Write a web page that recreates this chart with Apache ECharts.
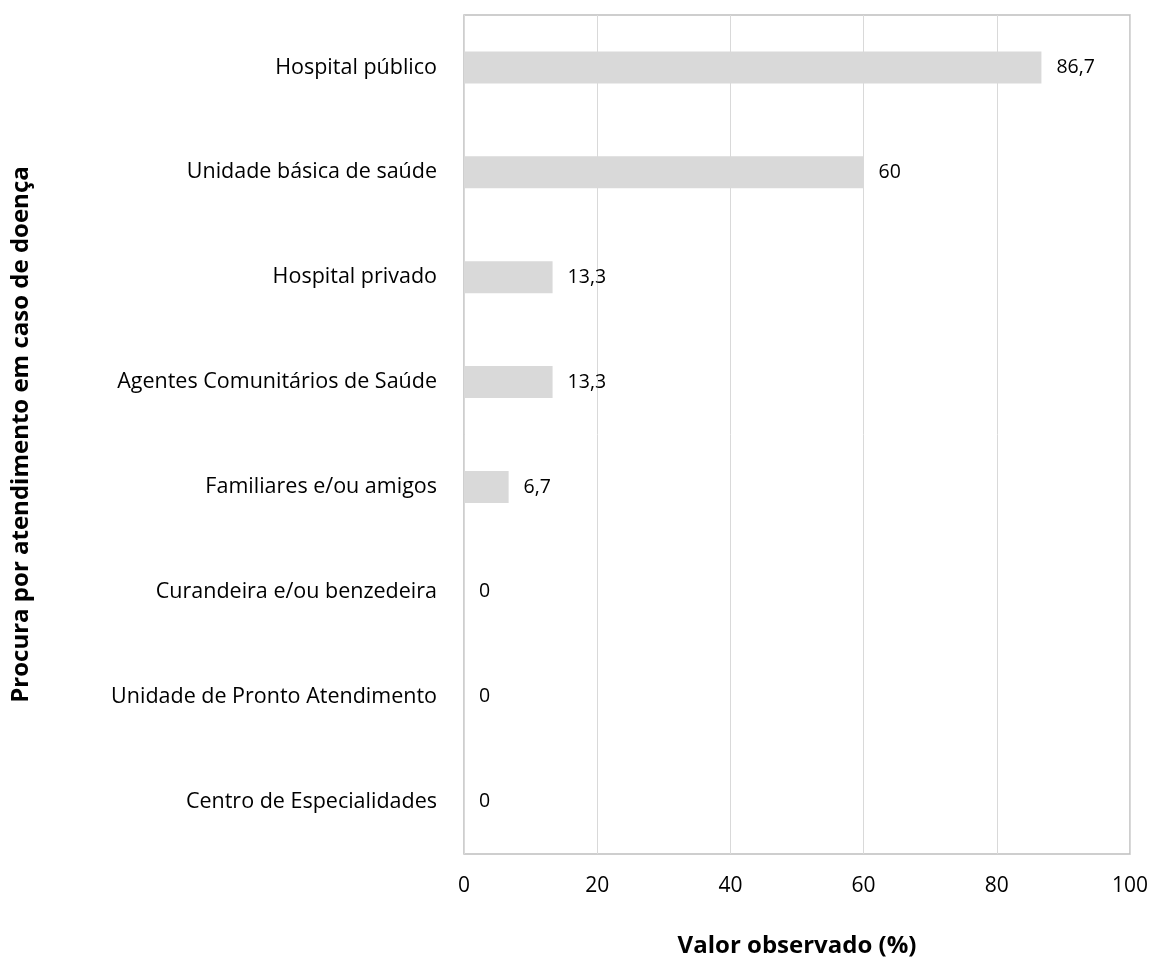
<!DOCTYPE html>
<html>
<head>
<meta charset="utf-8">
<script src="https://cdn.jsdelivr.net/npm/echarts@6/dist/echarts.min.js"></script>
<style>
  html, body { margin: 0; padding: 0; background: #fff; }
  #chart { width: 1153px; height: 962px; }
</style>
</head>
<body>
<div id="chart"></div>
<script>
  var categories = [
    "Hospital público",
    "Unidade básica de saúde",
    "Hospital privado",
    "Agentes Comunitários de Saúde",
    "Familiares e/ou amigos",
    "Curandeira e/ou benzedeira",
    "Unidade de Pronto Atendimento",
    "Centro de Especialidades"
  ];
  var values = [86.7, 60, 13.3, 13.3, 6.7, 0, 0, 0];
  var xTicks = [0, 20, 40, 60, 80, 100];

  var font = "'Open Sans', sans-serif";
  var chart = echarts.init(document.getElementById("chart"));
  var option = {
    animation: false,
    textStyle: { fontFamily: font },
    grid: {
      left: 464, right: 23, top: 15, bottom: 108,
      outerBoundsMode: "none",
      show: true, borderColor: "#bfbfbf", borderWidth: 1.5
    },
    xAxis: {
      type: "value",
      min: xTicks[0],
      max: xTicks[xTicks.length - 1],
      interval: 20,
      name: "Valor observado (%)",
      nameLocation: "middle",
      nameGap: 80,
      nameTextStyle: { fontFamily: font, fontSize: 24, fontWeight: "bold", color: "#000" },
      axisLine: { show: false },
      axisTick: { show: false },
      axisLabel: { fontFamily: font, fontSize: 21, color: "#000", margin: 22 },
      splitLine: { lineStyle: { color: "#d9d9d9", width: 1 } }
    },
    yAxis: {
      type: "category",
      inverse: true,
      data: categories,
      name: "Procura por atendimento em caso de doença",
      nameLocation: "middle",
      nameGap: 431,
      nameRotate: 90,
      nameTextStyle: { fontFamily: font, fontSize: 24, fontWeight: "bold", color: "#000" },
      axisLine: { show: false },
      axisTick: { show: false },
      axisLabel: { fontFamily: font, fontSize: 21.5, color: "#000", margin: 27 }
    },
    series: [{
      type: "bar",
      data: values,
      barWidth: 32,
      itemStyle: { color: "#d9d9d9" },
      label: {
        show: true,
        position: "right",
        distance: 15,
        fontFamily: font,
        fontSize: 19.5,
        color: "#000",
        formatter: function (p) { return String(p.value).replace(".", ","); }
      }
    }]
  };
  chart.setOption(option);
</script>
</body>
</html>
